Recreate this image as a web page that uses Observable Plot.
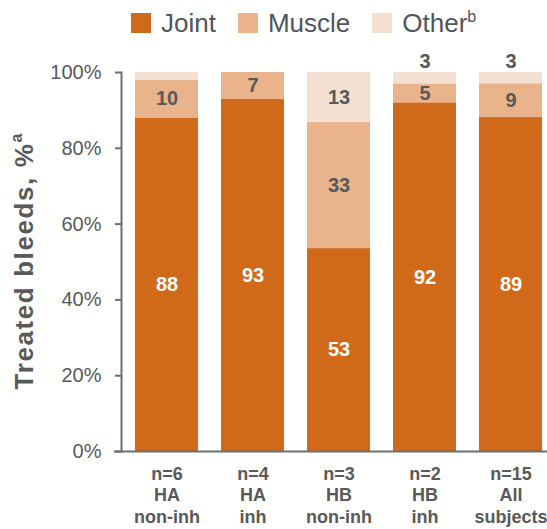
<!DOCTYPE html>
<html>
<head>
<meta charset="utf-8">
<script src="https://cdn.jsdelivr.net/npm/d3@7"></script>
<script src="https://cdn.jsdelivr.net/npm/@observablehq/plot@0.6"></script>
<style>
  html, body { margin: 0; padding: 0; background: #fff; }
  body { width: 547px; height: 529px; overflow: hidden; font-family: "Liberation Sans", Arial, sans-serif; }
  #legend { height: 46px; display: flex; align-items: center; padding-left: 131px; box-sizing: border-box; color: #4f555b; font-size: 26px; }
  #legend .item { display: flex; align-items: center; margin-right: 22px; line-height: 26px; }
  #legend .sw { width: 20px; height: 20px; margin-right: 10px; }
  #legend sup { font-size: 16px; vertical-align: 10px; line-height: 0; }
  #chart svg { display: block; }
</style>
</head>
<body>
<div id="legend"></div>
<div id="chart"></div>
<script>
// Patient groups and their tick-label lines
const groups = ["HA non-inh", "HA inh", "HB non-inh", "HB inh", "All subjects"];
const groupCounts = ["n=6", "n=4", "n=3", "n=2", "n=15"];
const groupTypes = ["HA", "HA", "HB", "HB", "All"];
const groupStatus = ["non-inh", "inh", "non-inh", "inh", "subjects"];

// Bleed sites (stacked bottom to top) and their colours
const series = ["Joint", "Muscle", "Other"];
const seriesSup = ["", "", "b"];
const colors = ["#d06a1a", "#e9b48c", "#f4e0d2"];

// Share of treated bleeds, % per group
const joint = [88, 93, 53, 92, 89];
const muscle = [10, 7, 33, 5, 9];
const other = [2, 0, 13, 3, 3];

const yTicks = [0, 0.2, 0.4, 0.6, 0.8, 1];

const valuesBySeries = {Joint: joint, Muscle: muscle, Other: other};
const rows = [];
groups.forEach((g, i) => {
  series.forEach(s => rows.push({group: g, series: s, value: valuesBySeries[s][i]}));
});

// Legend
const legend = d3.select("#legend");
series.forEach((s, i) => {
  const item = legend.append("div").attr("class", "item");
  item.append("div").attr("class", "sw").style("background", colors[i]);
  const label = item.append("span").text(s);
  if (seriesSup[i]) label.append("sup").text(seriesSup[i]);
});

const W = 547, H = 483;
const mLeft = 121, mRight = 0, mTop = 26, mBottom = 78;
const grey = "#595959";
const axisGrey = "#6b6e72";

const stackOpts = {x: "group", y: "value", z: "series", order: series, offset: "normalize"};

const chart = Plot.plot({
  width: W,
  height: H,
  marginLeft: mLeft,
  marginRight: mRight,
  marginTop: mTop,
  marginBottom: mBottom,
  style: {fontFamily: "'Liberation Sans', Arial, sans-serif", background: "white"},
  x: {domain: groups, paddingInner: 0.262, paddingOuter: 0.0865, align: 0.733},
  y: {domain: [0, 1]},
  color: {domain: series, range: colors},
  marks: [
    Plot.barY(rows, Plot.stackY({...stackOpts, fill: "series"})),
    // values inside the joint segments
    Plot.text(rows, Plot.stackY({...stackOpts,
      text: d => d.series === "Joint" ? String(d.value) : "",
      fill: "white", fontSize: 20, fontWeight: "bold"})),
    // values inside the muscle / other segments
    Plot.text(rows, Plot.stackY({...stackOpts,
      text: d => d.series !== "Joint" && d.value >= 5 ? String(d.value) : "",
      fill: grey, fontSize: 20, fontWeight: "bold"})),
    // thin top segments labelled above the bar
    Plot.text(rows, Plot.stackY2({...stackOpts,
      text: d => d.series === "Other" && d.value >= 3 && d.value < 5 ? String(d.value) : "",
      fill: grey, fontSize: 20, fontWeight: "bold", dy: -11})),
    Plot.axisY({
      ticks: yTicks,
      tickFormat: d3.format(".0%"),
      tickSize: 6,
      tickPadding: 14,
      fontSize: 20,
      color: grey,
      stroke: axisGrey,
      strokeWidth: 2,
      label: null
    }),
    Plot.axisX({
      tickSize: 0,
      tickPadding: 13,
      fontSize: 18,
      fontWeight: "bold",
      lineHeight: 1.2,
      color: grey,
      tickFormat: d => {
        const i = groups.indexOf(d);
        return `${groupCounts[i]}\n${groupTypes[i]}\n${groupStatus[i]}`;
      },
      label: null
    }),
    Plot.frame({anchor: "left", stroke: axisGrey, strokeWidth: 2}),
    Plot.ruleY([0], {stroke: axisGrey, strokeWidth: 2, insetLeft: -7})
  ]
});

// Rotated y-axis title with superscript note marker
const svg = d3.select(chart);
const cy = (mTop + H - mBottom) / 2;
const title = svg.append("text")
  .attr("transform", `translate(33,${cy}) rotate(-90)`)
  .attr("text-anchor", "middle")
  .attr("fill", grey)
  .attr("font-size", 26)
  .attr("font-weight", "bold")
  .attr("letter-spacing", 1.6)
  .attr("font-family", "'Liberation Sans', Arial, sans-serif");
title.append("tspan").text("Treated bleeds, %");
title.append("tspan").attr("font-size", 16).attr("dy", -11).attr("letter-spacing", 0).text("a");

document.getElementById("chart").appendChild(chart);
</script>
</body>
</html>
